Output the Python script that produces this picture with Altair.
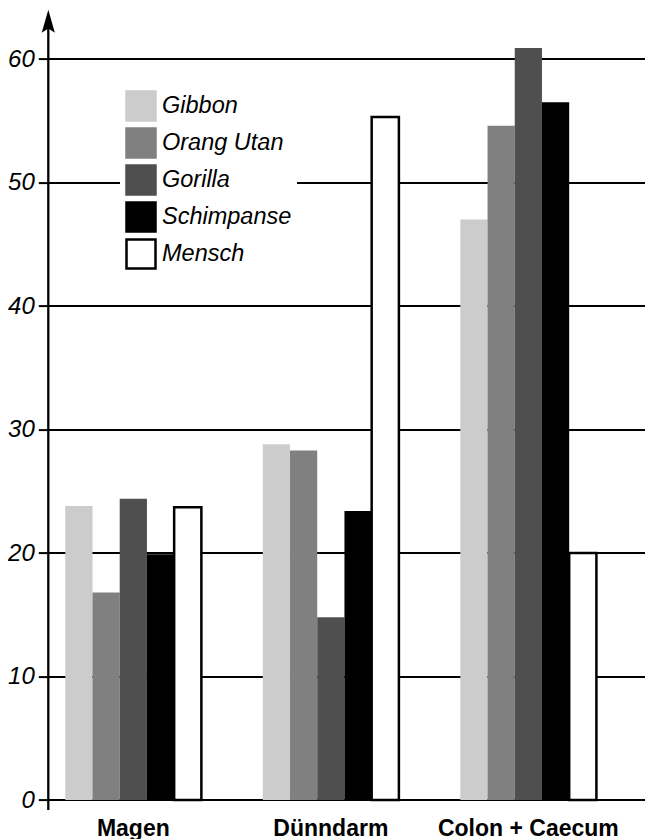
import altair as alt
import pandas as pd

categories = ["Magen", "Dünndarm", "Colon + Caecum"]
species = ["Gibbon", "Orang Utan", "Gorilla", "Schimpanse", "Mensch"]
gibbon = [23.8, 28.8, 47.0]
orang_utan = [16.8, 28.3, 54.6]
gorilla = [24.4, 14.8, 60.9]
schimpanse = [19.9, 23.4, 56.5]
mensch = [23.7, 55.3, 20.0]
fill_colors = ["#cccccc", "#808080", "#4f4f4f", "#000000", "#ffffff"]
stroke_colors = ["#cccccc", "#808080", "#4f4f4f", "#000000", "#000000"]
y_ticks = [0, 10, 20, 30, 40, 50, 60]

series = [gibbon, orang_utan, gorilla, schimpanse, mensch]
rows = []
for sp, vals in zip(species, series):
    for cat, v in zip(categories, vals):
        rows.append({"organ": cat, "species": sp, "value": v})
df = pd.DataFrame(rows)

FONT = "Liberation Sans"

xscale = alt.Scale(domain=categories, paddingInner=0.311, paddingOuter=0.166,
                   align=0.259, round=False)
yscale = alt.Scale(domain=[0, 64], nice=False, zero=False)

legend_kw = dict(title=None, orient="none", legendX=71.7, legendY=75.5,
                 fillColor="white", padding=5, symbolType="square",
                 symbolSize=841, symbolStrokeWidth=2.5,
                 labelFont=FONT, labelFontSize=23.5, labelFontStyle="italic",
                 labelColor="black", labelOffset=5, rowPadding=-3, labelLimit=300)

bars = alt.Chart(df).mark_bar().encode(
    x=alt.X("organ:N", sort=categories, scale=xscale, title=None,
            axis=alt.Axis(domain=False, ticks=False, labelAngle=0, labelLimit=400,
                          labelFont=FONT, labelFontSize=23, labelFontWeight="bold",
                          labelColor="black", labelPadding=17)),
    xOffset=alt.XOffset("species:N", sort=species,
                        scale=alt.Scale(domain=species, paddingInner=0, paddingOuter=0)),
    y=alt.Y("value:Q", scale=yscale, title=None,
            axis=alt.Axis(values=y_ticks, domain=False, grid=True, gridColor="black",
                          gridWidth=2, gridOpacity=1, tickColor="black", tickWidth=2,
                          tickSize=10, labelFont=FONT, labelFontSize=24,
                          labelFontStyle="italic", labelColor="black", labelPadding=4)),
    color=alt.Color("species:N", sort=species,
                    scale=alt.Scale(domain=species, range=fill_colors),
                    legend=alt.Legend(**legend_kw)),
    stroke=alt.Stroke("species:N", sort=species,
                      scale=alt.Scale(domain=species, range=stroke_colors),
                      legend=alt.Legend(**legend_kw)),
    strokeWidth=alt.condition(alt.datum.species == "Mensch", alt.value(2.5), alt.value(0)),
)

axis_line = alt.Chart(pd.DataFrame({"a": [0]})).mark_rule(color="black", strokeWidth=2.3).encode(
    x=alt.value(0),
    y=alt.datum(-0.8, scale=yscale),
    y2=alt.datum(63),
)

arrow = alt.Chart(pd.DataFrame({"a": [0]})).mark_point(
    filled=True, color="black", opacity=1, size=529,
    shape="M0,-1L0.57,1L0,0.62L-0.57,1Z",
).encode(
    x=alt.value(0),
    y=alt.datum(63.05, scale=yscale),
)

chart = alt.layer(bars, axis_line, arrow).properties(
    width=596.7, height=790.4,
    padding={"left": 40.3, "top": 1.6, "right": 0, "bottom": 39},
    autosize=alt.AutoSizeParams(type="none"),
).configure_view(stroke=None)

chart.save("out.html", embed_options={"renderer": "svg", "actions": False})
